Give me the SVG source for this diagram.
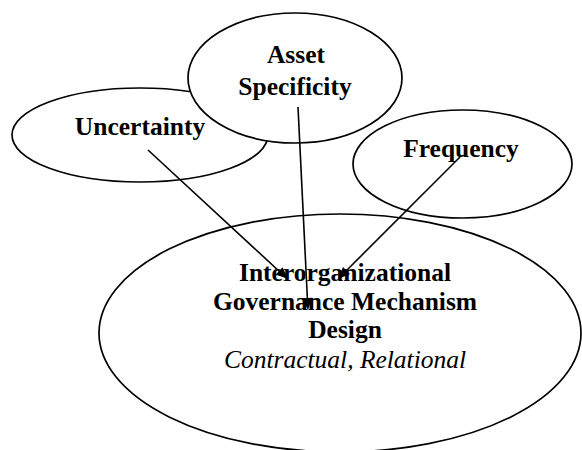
<svg xmlns="http://www.w3.org/2000/svg" width="582" height="450" viewBox="0 0 582 450">
<style>
.node{fill:#fff;stroke:#000;stroke-width:1.7}
.lbl{font-family:"Liberation Serif","Times New Roman",serif;font-size:25.5px;font-weight:bold;fill:#000;text-anchor:middle}
.it{font-family:"Liberation Serif","Times New Roman",serif;font-size:25.5px;font-style:italic;fill:#000;text-anchor:middle}
.conn{stroke:#000;stroke-width:1.6;fill:none}
.head{fill:#000;stroke:none}
</style>
<rect width="582" height="450" fill="#fff"/>
<g id="uncertainty">
<ellipse class="node" cx="140" cy="135" rx="128" ry="47"/>
<text class="lbl" x="140" y="135">Uncertainty</text>
</g>
<g id="asset-specificity">
<ellipse class="node" cx="295" cy="78" rx="107" ry="65"/>
<text class="lbl" x="296" y="63">Asset</text>
<text class="lbl" x="295" y="95">Specificity</text>
</g>
<g id="frequency">
<ellipse class="node" cx="462.5" cy="164" rx="109.5" ry="54"/>
<text class="lbl" x="461" y="157">Frequency</text>
</g>
<g id="governance">
<ellipse class="node" cx="340" cy="333" rx="241" ry="119"/>
<text class="lbl" x="345" y="281">Interorganizational</text>
<text class="lbl" x="345" y="310">Governance Mechanism</text>
<text class="lbl" x="345" y="338">Design</text>
<text class="it" x="345" y="368">Contractual, Relational</text>
</g>
<g id="connectors">
<line class="conn" x1="148" y1="150" x2="280" y2="272"/>
<polygon class="head" points="288,279 275.8,274.6 282.6,267.2"/>
<line class="conn" x1="298" y1="107" x2="307.4" y2="299"/>
<polygon class="head" points="308,310 302.4,298.2 312.4,297.8"/>
<line class="conn" x1="460" y1="157" x2="346" y2="271"/>
<polygon class="head" points="338,279 343,267 350,274"/>
</g>
</svg>
